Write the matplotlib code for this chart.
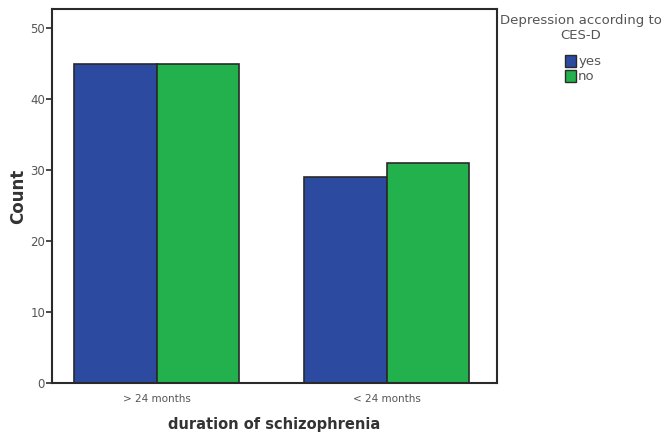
import matplotlib
matplotlib.use("Agg")
import matplotlib.pyplot as plt
from matplotlib.patches import Patch
import numpy as np

categories = ["> 24 months", "< 24 months"]
yes_counts = [45, 29]
no_counts = [45, 31]
series_names = ["yes", "no"]
legend_title = "Depression according to\nCES-D"

blue = "#2b4aa0"
green = "#22b14c"
edge = "#2a2a2a"
grey = "#555555"

fig = plt.figure(figsize=(6.63, 4.37), dpi=100)
ax = fig.add_axes([52/663, 1 - 383/437, 445/663, 374/437])

x = np.arange(len(categories))
w = 0.36
ax.bar(x - w/2, yes_counts, width=w, color=blue, edgecolor=edge, linewidth=1.2)
ax.bar(x + w/2, no_counts, width=w, color=green, edgecolor=edge, linewidth=1.2)

ax.set_xlim(-0.455, 1.48)
ax.set_ylim(0, 52.7)
ax.set_yticks([0, 10, 20, 30, 40, 50])
ax.set_xticks(x)
ax.set_xticklabels(categories)
ax.tick_params(axis="y", labelsize=8.5, colors=edge, labelcolor=grey, length=4, width=1.2, pad=1)
ax.tick_params(axis="x", labelsize=7.5, labelcolor=grey, length=0, pad=8)
for s in ax.spines.values():
    s.set_linewidth(1.5)
    s.set_color(edge)

ax.set_ylabel("Count", fontsize=12, fontweight="bold", color="#333333", labelpad=2)
ax.set_xlabel("duration of schizophrenia", fontsize=10.5, fontweight="bold", color="#333333", labelpad=9)

fig.text(581/663, 1 - 28/437, legend_title, ha="center", va="center", fontsize=9.5,
         color=grey, multialignment="center", linespacing=1.25)

handles = [Patch(facecolor=blue, edgecolor=edge, label=series_names[0]),
           Patch(facecolor=green, edgecolor=edge, label=series_names[1])]
leg = fig.legend(handles=handles, loc="upper left",
                 bbox_to_anchor=(565/663, 1 - 55/437), frameon=False, fontsize=9.5,
                 handlelength=0.8, handleheight=1.0, handletextpad=0.2,
                 labelspacing=0.1, borderpad=0, borderaxespad=0)
for t in leg.get_texts():
    t.set_color(grey)

fig.savefig("out.png", dpi=100)
